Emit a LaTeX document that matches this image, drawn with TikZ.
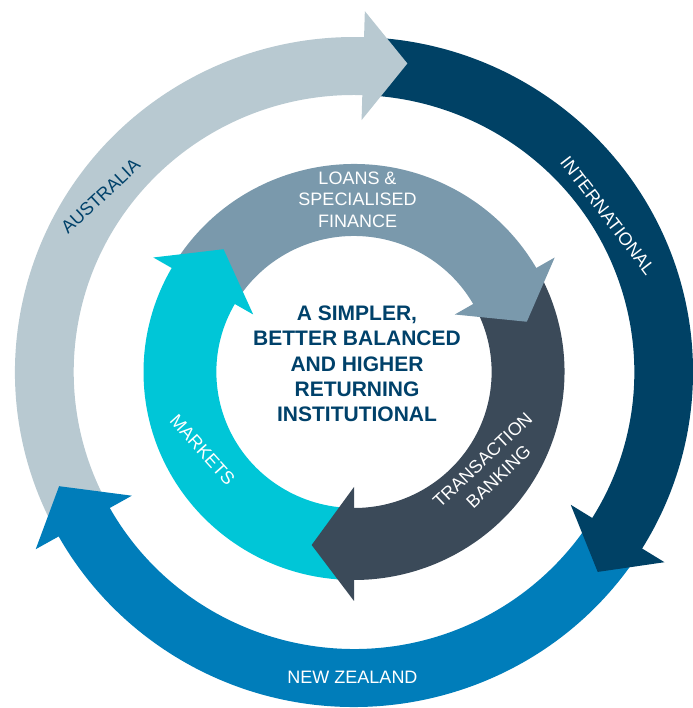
\documentclass[tikz,border=0pt]{standalone}
\usepackage{fontspec}
\setmainfont{Liberation Sans}
\definecolor{ausc}{HTML}{B8C9D1}
\definecolor{intlc}{HTML}{004165}
\definecolor{nzc}{HTML}{007DBA}
\definecolor{loanc}{HTML}{7A99AC}
\definecolor{tbc}{HTML}{3B4A59}
\definecolor{mktc}{HTML}{00C6D7}
\definecolor{navytext}{HTML}{00416A}
% band: colour, start angle, end angle, outer radius, inner radius
\newcommand{\ringband}[5]{%
  \fill[#1] (#2:#4) arc[start angle=#2, end angle=#3, radius=#4]
    -- (#3:#5) arc[start angle=#3, end angle=#2, radius=#5] -- cycle;}
% head: colour, base angle, outer barb radius, inner barb radius, tip angle, tip radius
\newcommand{\ringhead}[6]{%
  \fill[#1] (#2:#3) -- (#5:#6) -- (#2:#4) -- cycle;}
\tikzset{
  seglabel/.style={text=white, font=\fontsize{18}{21.5}\selectfont, inner sep=0pt, align=center},
  centretext/.style={text=navytext, font=\fontsize{21}{25.25}\selectfont\bfseries, inner sep=0pt, align=center}
}
\begin{document}
\begin{tikzpicture}[x=1pt,y=1pt]
\useasboundingbox (0,0) rectangle (692,708);
\begin{scope}[shift={(354,336)}, xscale=1.012]
  % outer ring bands
  \ringband{ausc}{208.9}{86.3}{335}{277}
  \ringband{intlc}{87.8}{-33.8}{335}{277}
  \ringband{nzc}{-32.3}{-152.6}{335}{277}
  % inner ring bands
  \ringband{loanc}{149.5}{28}{208}{136}
  \ringband{tbc}{29.5}{-92}{208}{136}
  \ringband{mktc}{-90.5}{-212}{208}{136}
  % outer heads
  \ringhead{ausc}{88.3}{361}{252}{80.3}{313}
  \ringhead{intlc}{-31.8}{361}{252}{-39.7}{313}
  \ringhead{nzc}{-150.6}{361}{252}{-158.6}{313}
  % inner heads
  \ringhead{loanc}{30}{229}{115}{16.4}{178}
  \ringhead{tbc}{-90}{229}{115}{-103.6}{178}
  \ringhead{mktc}{150}{229}{115}{136.4}{178}
\end{scope}
\node[seglabel, text=navytext, rotate=43] (aus) at (100.6,511.8) {AUSTRALIA};
\node[seglabel, rotate=-52.5] (intl) at (607.8,492.2) {INTERNATIONAL};
\node[seglabel] (nz) at (352.5,31) {NEW ZEALAND};
\node[seglabel, rotate=-48] (mkt) at (202.5,258) {MARKETS};
\node[seglabel, rotate=43.5, font=\fontsize{18}{23}\selectfont] (tb) at (490.5,239.6) {TRANSACTION\\BANKING};
\node[seglabel] (loan) at (357.5,508.5) {LOANS \&\\SPECIALISED\\FINANCE};
\node[centretext] (centre) at (357,344.2) {A SIMPLER,\\BETTER BALANCED\\AND HIGHER\\RETURNING\\INSTITUTIONAL};
\end{tikzpicture}
\end{document}
